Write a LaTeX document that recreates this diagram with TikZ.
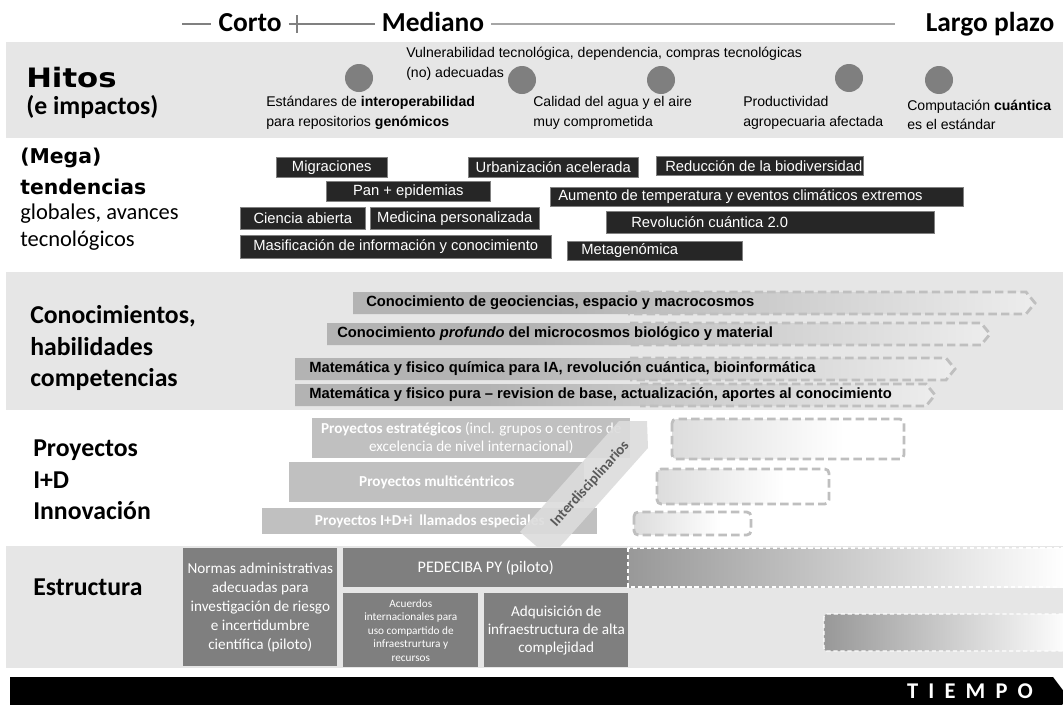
\documentclass[tikz,border=0pt]{standalone}
\usepackage{fontspec}
\setmainfont{Liberation Sans}
\newfontfamily\calfont{Carlito}
\newfontfamily\heavyfont{DejaVu Sans}
\newfontfamily\widefont{DejaVu Sans}[FakeStretch=1.15]
\newfontfamily\tiempofont{Carlito}[LetterSpace=45]
\usetikzlibrary{positioning}

\definecolor{bandgray}{HTML}{E6E6E6}
\definecolor{trendfill}{HTML}{262626}
\definecolor{barfill}{HTML}{B3B3B3}
\definecolor{projfill}{HTML}{C0C0C0}
\definecolor{strucfill}{HTML}{7F7F7F}
\definecolor{dashgray}{HTML}{BFBFBF}
\definecolor{interfill}{HTML}{DCDCDC}
\definecolor{intertext}{HTML}{595959}

\newlength{\px}
\setlength{\px}{0.025cm}
\newcommand{\fsz}[2]{\fontsize{#1}{#2}\selectfont}

\pgfdeclarehorizontalshading{barfade}{100bp}{color(0bp)=(barfill); color(40bp)=(barfill); color(86bp)=(white); color(100bp)=(white)}
\pgfdeclarehorizontalshading{projfade}{100bp}{color(0bp)=(projfill!80); color(8bp)=(projfill!80); color(62bp)=(white); color(100bp)=(white)}
\pgfdeclarehorizontalshading{strucfade}{100bp}{color(0bp)=(strucfill); color(13bp)=(strucfill); color(74bp)=(white); color(100bp)=(white)}

\begin{document}
\begin{tikzpicture}[x=0.025cm,y=-0.025cm,
	toplbl/.style={anchor=base, inner sep=5pt, font=\calfont\bfseries\fsz{19.5}{22}},
	tline/.style={draw=gray, line width=0.8pt},
	lbl/.style={anchor=west, inner sep=0pt, font=\calfont\bfseries\fsz{18.3}{22.5}},
	heavy/.style={anchor=west, inner sep=0pt, font=\heavyfont\bfseries\fsz{14.5}{16}},
	hit/.style={circle, fill=strucfill, minimum size=28\px, inner sep=0pt},
	hittext/.style={anchor=west, inner sep=0pt, align=left, font=\fsz{10}{14}},
	trend/.style={anchor=north west, draw=gray, line width=0.4pt, fill=trendfill, text=white, inner sep=0pt, font=\fsz{10.5}{12}},
	bartext/.style={anchor=west, inner sep=0pt, font=\bfseries\fsz{10.5}{12}},
	dashline/.style={draw=dashgray, line width=2pt, dash pattern=on 6pt off 3pt},
	proj/.style={anchor=north west, fill=projfill, text=white, inner sep=0pt, align=center, font=\calfont\fsz{10.8}{13}},
	projdash/.style={rounded corners=3pt, draw=dashgray, line width=2pt, dash pattern=on 6pt off 3pt, shading=projfade},
	struc/.style={anchor=north west, fill=strucfill, text=white, inner sep=0pt, align=center, font=\calfont\fsz{10.8}{13.5}},
	strucdash/.style={draw=white, line width=0.9pt, dash pattern=on 3pt off 2pt, shading=strucfade}]
	%\draw [help lines, step=50] (0,0) grid (1063,704);
	\useasboundingbox (0,0) rectangle (1063,704);
	\clip (0,0) rectangle (1063,704);

	% bands
	\fill[bandgray] (6,42) rectangle (1063,138);
	\fill[bandgray] (6,272) rectangle (1063,410);
	\fill[bandgray] (6,546) rectangle (1063,668);

	% time line
	\node[toplbl] (corto) at (250,31) {Corto};
	\node[toplbl] (mediano) at (433,31) {Mediano};
	\node[toplbl] (largo) at (990,31) {Largo plazo};
	\coordinate (tl0) at (182,24);
	\coordinate (tl1) at (895,24);
	\draw[tline] (tl0) -- (corto.west |- tl0);
	\draw[tline] (corto.east |- tl0) -- (mediano.west |- tl0);
	\draw[tline] (297,15) -- (297,33);
	\draw[tline, draw=gray!70] (mediano.east |- tl0) -- (tl1);

	% hitos
	\node[heavy, font=\widefont\bfseries\fsz{19}{20}] (hitos) at (26,78) {Hitos};
	\node[lbl] (impactos) at (26,107) {(e impactos)};
	\node[hittext] (h1) at (266,113) {Estándares de \textbf{interoperabilidad}\\para repositorios \textbf{genómicos}};
	\node[hittext] (h2) at (406,64) {Vulnerabilidad tecnológica, dependencia, compras tecnológicas\\(no) adecuadas};
	\node[hittext] (h3) at (533,113) {Calidad del agua y el aire\\muy comprometida};
	\node[hittext] (h4) at (743,113) {Productividad\\agropecuaria afectada};
	\node[hittext] (h5) at (907,115) {Computación \textbf{cuántica}\\es el estándar};
	\node[hit] (c1) at (359,78) {};
	\node[hit] (c2) at (522,80) {};
	\node[hit] (c3) at (661,80) {};
	\node[hit] (c4) at (849,78) {};
	\node[hit] (c5) at (939,80) {};

	% tendencias
	\node[heavy] (mega) at (20,158) {(Mega)};
	\node[heavy] (tend) at (20,187) {tendencias};
	\node[lbl, font=\calfont\fsz{16}{20}] (glob) at (20,214) {globales, avances};
	\node[lbl, font=\calfont\fsz{16}{20}] (tecno) at (20,241) {tecnológicos};
	\node[trend, minimum width=111\px, minimum height=20\px] (migr) at (276,157) {Migraciones};
	\node[trend, minimum width=170\px, minimum height=20\px] (urb) at (468,157) {Urbanización acelerada};
	\node[trend, inner xsep=9\px, minimum height=19\px] (biod) at (656,156) {\makebox[189\px][l]{Reducción de la biodiversidad}};
	\node[trend, minimum width=164\px, minimum height=20\px] (pan) at (326,181) {Pan + epidemias};
	\node[trend, inner xsep=8\px, minimum height=19\px] (temp) at (550,187) {\makebox[397\px][l]{Aumento de temperatura y eventos climáticos extremos}};
	\node[trend, minimum width=125\px, minimum height=22\px] (ciencia) at (240,207) {Ciencia abierta};
	\node[trend, minimum width=169\px, minimum height=22\px] (medic) at (370,207) {Medicina personalizada};
	\node[trend, inner xsep=25\px, minimum height=22\px] (revol) at (606,211) {\makebox[278\px][l]{Revolución cuántica 2.0}};
	\node[trend, minimum width=311\px, minimum height=23\px] (masif) at (240,235) {Masificación de información y conocimiento};
	\node[trend, inner xsep=14\px, minimum height=19\px] (metag) at (567,241) {\makebox[147\px][l]{Metagenómica}};

	% conocimientos
	\node[lbl, align=left] (conoc) at (30,348) {Conocimientos,\\habilidades\\competencias};
	\shade[shading=barfade] (353,292) -- (1026,292) -- (1035,303) -- (1026,314) -- (353,314) -- cycle;
	\draw[dashline] (628,292) -- (1026,292) -- (1035,303) -- (1026,314) -- (628,314);
	\shade[shading=barfade] (327,323) -- (981,323) -- (990,334) -- (981,345) -- (327,345) -- cycle;
	\draw[dashline] (630,323) -- (981,323) -- (990,334) -- (981,345) -- (630,345);
	\shade[shading=barfade] (295,358) -- (946,358) -- (955,369) -- (946,380) -- (295,380) -- cycle;
	\draw[dashline] (630,358) -- (946,358) -- (955,369) -- (946,380) -- (630,380);
	\shade[shading=barfade] (295,384) -- (926,384) -- (935,395) -- (926,406) -- (295,406) -- cycle;
	\draw[dashline] (640,384) -- (926,384) -- (935,395) -- (926,406) -- (640,406);
	\node[bartext] (geo) at (366,303) {Conocimiento de geociencias, espacio y macrocosmos};
	\node[bartext] (micro) at (337,334) {Conocimiento \textit{profundo} del microcosmos biológico y material};
	\node[bartext] (mat1) at (309,369) {Matemática y fisico química para IA, revolución cuántica, bioinformática};
	\node[bartext] (mat2) at (309,395) {Matemática y fisico pura -- revision de base, actualización, aportes al conocimiento};

	% proyectos
	\node[lbl, align=left] (proy) at (33,480) {Proyectos\\I+D\\Innovación};
	\node[proj, minimum width=318\px, minimum height=40\px] (pestr) at (312,418) {\textbf{Proyectos estratégicos} (incl. grupos o centros de\\excelencia de nivel internacional)};
	\node[proj, minimum width=295\px, minimum height=40\px] (pmulti) at (289,462) {\textbf{Proyectos multicéntricos}};
	\node[proj, minimum width=335\px, minimum height=26\px] (pllam) at (262,508) {\textbf{Proyectos I+D+i \ llamados especiales}};
	\shadedraw[projdash] (672,419) rectangle (904,459);
	\shadedraw[projdash] (657,469) rectangle (829,504);
	\shadedraw[projdash] (634,512) rectangle (751,535);
	\begin{scope}
		\clip (0,410) rectangle (1063,546);
		\fill[interfill, opacity=0.9] (520,532) -- (619,421) -- (647,421) -- (648,448) -- (550,558) -- cycle;
	\end{scope}
	\node[rotate=48, inner sep=0pt, text=intertext, font=\calfont\bfseries\fsz{10.5}{12}] (inter) at (590,484) {Interdisciplinarios};

	% estructura
	\node[lbl] (estru) at (33,587) {Estructura};
	\node[struc, minimum width=154\px, minimum height=118\px] (normas) at (183,548) {Normas administrativas\\adecuadas para\\investigación de riesgo\\e incertidumbre\\científica (piloto)};
	\node[struc, minimum width=285\px, minimum height=39\px, font=\calfont\fsz{11.5}{13}] (pedec) at (343,548) {PEDECIBA PY (piloto)};
	\node[struc, minimum width=135\px, minimum height=74\px, font=\calfont\fsz{8}{9.6}] (acuer) at (343,593) {Acuerdos\\internacionales para\\uso compartido de\\infraestrurtura y\\recursos};
	\node[struc, minimum width=144\px, minimum height=74\px, font=\calfont\fsz{10.8}{12.8}] (adq) at (484,593) {Adquisición de\\infraestructura de alta\\complejidad};
	\shadedraw[strucdash] (628,548) rectangle (1075,587);
	\shadedraw[strucdash, rounded corners=2pt] (824,614) rectangle (1075,651);

	% tiempo
	\fill[black] (10,677) -- (1053,677) -- (1068,697) -- (1053,717) -- (10,717) -- cycle;
	\node[text=white, inner sep=0pt, font=\tiempofont\bfseries\fsz{16}{18}] (tiempo) at (970,691) {TIEMPO};
\end{tikzpicture}
\end{document}
